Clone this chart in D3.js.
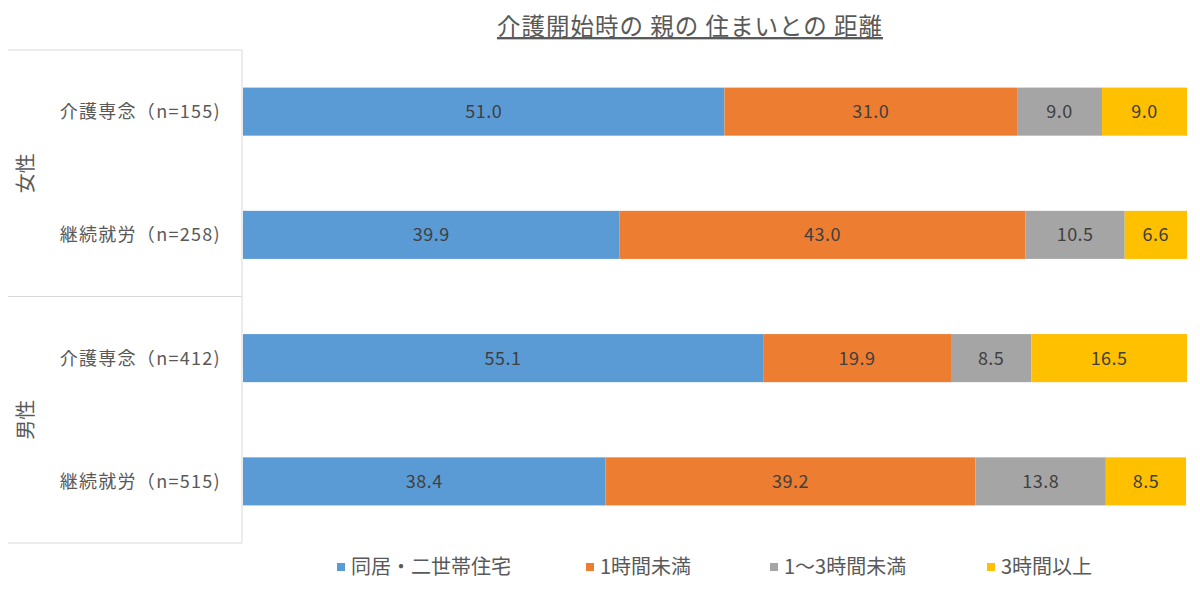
<!DOCTYPE html>
<html>
<head>
<meta charset="utf-8">
<script src="https://cdn.jsdelivr.net/npm/d3@7"></script>
<style>
  body { margin: 0; background: #fff; }
  text { font-family: "Noto Sans CJK JP", "Noto Sans", sans-serif; }
</style>
</head>
<body>
<div id="chart"></div>
<script>
// chart data
var title = "介護開始時の 親の 住まいとの 距離";
var groups = ["女性", "男性"];
var categories = ["介護専念（n=155)", "継続就労（n=258)", "介護専念（n=412)", "継続就労（n=515)"];
var seriesNames = ["同居・二世帯住宅", "1時間未満", "1～3時間未満", "3時間以上"];
var seriesColors = ["#5B9BD5", "#ED7D31", "#A5A5A5", "#FFC000"];
var sameHouse = [51.0, 39.9, 55.1, 38.4];
var underOne = [31.0, 43.0, 19.9, 39.2];
var oneToThree = [9.0, 10.5, 8.5, 13.8];
var overThree = [9.0, 6.6, 16.5, 8.5];

var series = [sameHouse, underOne, oneToThree, overThree];

var svg = d3.select("#chart").append("svg")
  .attr("width", 1200)
  .attr("height", 601);

var plot = { left: 243, right: 1187, top: 50, bottom: 543 };

var x = d3.scaleLinear().domain([0, 100]).range([plot.left, plot.right]);
var y = d3.scaleBand().domain(categories).range([plot.top, plot.bottom]).paddingInner(0.61).paddingOuter(0.305);

// title
svg.append("text")
  .attr("x", 690)
  .attr("y", 35)
  .attr("text-anchor", "middle")
  .attr("font-size", "23.5px")
  .attr("letter-spacing", "1px")
  .attr("fill", "#595959")
  .attr("text-decoration", "underline")
  .text(title);

// stacked rows
var rows = categories.map(function (c, i) {
  var acc = 0;
  return series.map(function (s, k) {
    var seg = { cat: c, k: k, x0: acc, x1: acc + s[i], v: s[i] };
    acc += s[i];
    return seg;
  });
});

var segs = svg.append("g").selectAll("g")
  .data(d3.merge(rows))
  .enter().append("g");

segs.append("rect")
  .attr("x", function (d) { return x(d.x0); })
  .attr("y", function (d) { return y(d.cat); })
  .attr("width", function (d) { return x(d.x1) - x(d.x0); })
  .attr("height", y.bandwidth())
  .attr("fill", function (d) { return seriesColors[d.k]; });

segs.append("text")
  .attr("x", function (d) { return (x(d.x0) + x(d.x1)) / 2; })
  .attr("y", function (d) { return y(d.cat) + y.bandwidth() / 2; })
  .attr("dy", "0.36em")
  .attr("text-anchor", "middle")
  .attr("font-size", "18px")
  .attr("letter-spacing", "0.5px")
  .attr("fill", "#404040")
  .text(function (d) { return d.v.toFixed(1); });

// left category axis with group boxes
var axisColor = "#d9d9d9";
var left = svg.append("g");
var step = y.step();

left.append("line")
  .attr("x1", plot.left - 1).attr("x2", plot.left - 1)
  .attr("y1", plot.top).attr("y2", plot.bottom)
  .attr("stroke", axisColor);

[plot.top, plot.top + 2 * step, plot.bottom].forEach(function (yy) {
  left.append("line")
    .attr("x1", 8).attr("x2", plot.left - 1)
    .attr("y1", yy).attr("y2", yy)
    .attr("stroke", axisColor);
});

left.selectAll(".cat")
  .data(categories)
  .enter().append("text")
  .attr("class", "cat")
  .attr("x", 221)
  .attr("y", function (d) { return y(d) + y.bandwidth() / 2; })
  .attr("dy", "0.36em")
  .attr("text-anchor", "end")
  .attr("font-size", "18px")
  .attr("letter-spacing", "1.3px")
  .attr("fill", "#595959")
  .text(function (d) { return d; });

left.selectAll(".grp")
  .data(groups)
  .enter().append("text")
  .attr("class", "grp")
  .attr("transform", function (g, i) {
    var cy = plot.top + step * (2 * i + 1);
    return "translate(33," + cy + ") rotate(-90)";
  })
  .attr("text-anchor", "middle")
  .attr("font-size", "20px")
  .attr("fill", "#595959")
  .text(function (d) { return d; });

// legend
var legendX = [337, 586, 770, 987];
var legend = svg.append("g").selectAll("g")
  .data(seriesNames)
  .enter().append("g")
  .attr("transform", function (d, i) { return "translate(" + legendX[i] + ",567)"; });

legend.append("rect")
  .attr("x", 0).attr("y", -4)
  .attr("width", 8).attr("height", 8)
  .attr("fill", function (d, i) { return seriesColors[i]; });

legend.append("text")
  .attr("x", 14)
  .attr("dy", "0.36em")
  .attr("font-size", "20px")
  .attr("fill", "#595959")
  .text(function (d) { return d; });
</script>
</body>
</html>
